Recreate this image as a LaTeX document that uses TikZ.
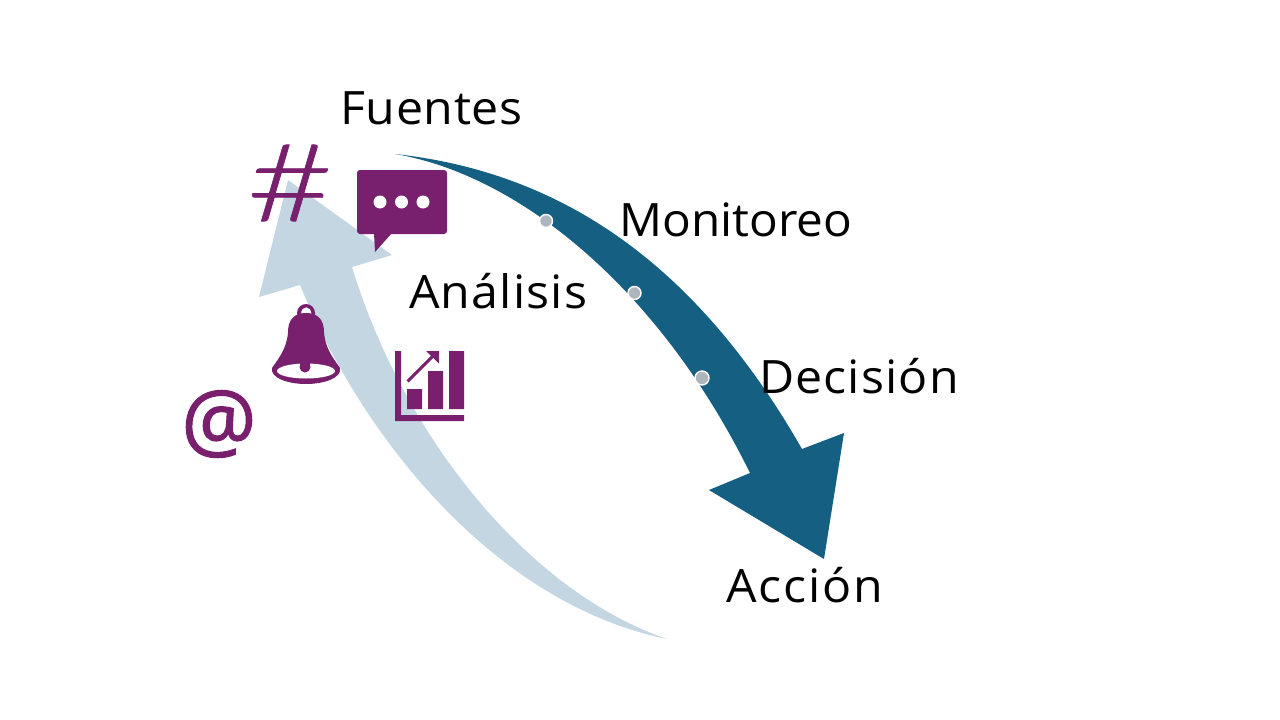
\documentclass[tikz,border=0pt]{standalone}
\usepackage{fontspec}
\setmainfont{Open Sans}
\newfontfamily\hashfont[FakeStretch=1.4,FakeBold=0.6]{Lato Light}
\newfontfamily\atfont[FakeBold=1.2]{Open Sans}
\newfontfamily\labfontA[FakeStretch=1.05,LetterSpace=1.4]{Open Sans}
\newfontfamily\labfontB[FakeStretch=1.036]{Open Sans}
\newfontfamily\labfontC[FakeStretch=1.05,LetterSpace=2.5]{Open Sans}
\newfontfamily\labfontD[FakeStretch=1.05,LetterSpace=4]{Open Sans}
\definecolor{deepblue}{HTML}{156082}
\definecolor{paleblue}{HTML}{C3D6E1}
\definecolor{plum}{HTML}{78206E}
\definecolor{dotgrey}{HTML}{ADB5BF}
\tikzset{
  x=1pt,y=-1pt,
  lbl/.style={anchor=base west,inner sep=0pt,text=black},
  stagedot/.style={circle,fill=dotgrey,draw=white,line width=1.4pt,inner sep=0pt,minimum size=14pt},
  icon/.style={fill=plum,draw=none}
}
\newcommand{\labsize}{\fontsize{46}{54}\selectfont}
\begin{document}
\begin{tikzpicture}
\useasboundingbox (0,0) rectangle (1280,720);
% return arrow
\fill[paleblue] (667,639) .. controls (500,605) and (365,445) .. (300,285)
  -- (259,297) -- (288,180) -- (392,255) -- (352,267)
  .. controls (405,440) and (530,592) .. (667,639) -- cycle;
% forward arrow
\fill[deepblue] (395,154) .. controls (560,172) and (695,262) .. (802,449)
  -- (844,433) -- (824,559) -- (709,490) -- (750,473)
  .. controls (660,290) and (520,175) .. (395,154) -- cycle;
% dots
\node[stagedot,minimum size=13pt] (d1) at (546,221) {};
\node[stagedot,minimum size=13pt] (d2) at (634.5,293) {};
\node[stagedot] (d3) at (702,378) {};
% hash
\node[inner sep=0pt,text=plum,font=\hashfont\fontsize{108}{108}\selectfont] (hash) at (290,183) {\#};
% bubble
\fill[icon,rounded corners=3pt] (357,170) rectangle (447,234);
\fill[icon] (374,233) -- (375,252) -- (392,233) -- cycle;
\fill[white] (380,202) circle[radius=6.5] (401.5,202) circle[radius=6.5] (423,202) circle[radius=6.5];
% bell
\fill[icon,even odd rule] (306,313) circle[radius=9]
  (301,314) .. controls (301,305) and (311.5,305) .. (311.5,314) -- cycle;
\fill[icon] (288,332) .. controls (288,320) and (294,313) .. (306,313)
  .. controls (318,313) and (324,320) .. (324,332)
  .. controls (325,348) and (333,358) .. (340,368)
  .. controls (342,378) and (324,384) .. (306,384)
  .. controls (288,384) and (270,378) .. (272,368)
  .. controls (279,358) and (287,348) .. (288,332) -- cycle;
\fill[white] (306,371) ellipse[x radius=29,y radius=7.5];
\fill[icon] (305,367) circle[radius=5.5];
\fill[icon] (300,362) rectangle (310,367);
% chart
\fill[icon] (395,351) rectangle (401,421) (395,415) rectangle (464,421);
\fill[icon] (407,389) rectangle (422,409) (428,371) rectangle (443,409) (449,351) rectangle (464,409);
\fill[icon] (426,351) -- (439,351) -- (439,363.5) -- cycle;
\draw[plum,line width=3pt] (407.5,381.5) -- (433,356);
% texts
\node[inner sep=0pt,text=plum,font=\atfont\fontsize{84}{84}\selectfont] (at) at (219,424) {@};
\node[lbl,font=\labfontA\labsize] (fuentes) at (340,124) {Fuentes};
\node[lbl,font=\labfontB\labsize] (monitoreo) at (619.5,236.5) {Monitoreo};
\node[lbl,font=\labfontC\labsize] (analisis) at (409,308) {Análisis};
\node[lbl,font=\labfontC\labsize] (decision) at (759,393) {Decisión};
\node[lbl,font=\labfontD\labsize] (accion) at (726,602) {Acción};
\end{tikzpicture}
\end{document}
